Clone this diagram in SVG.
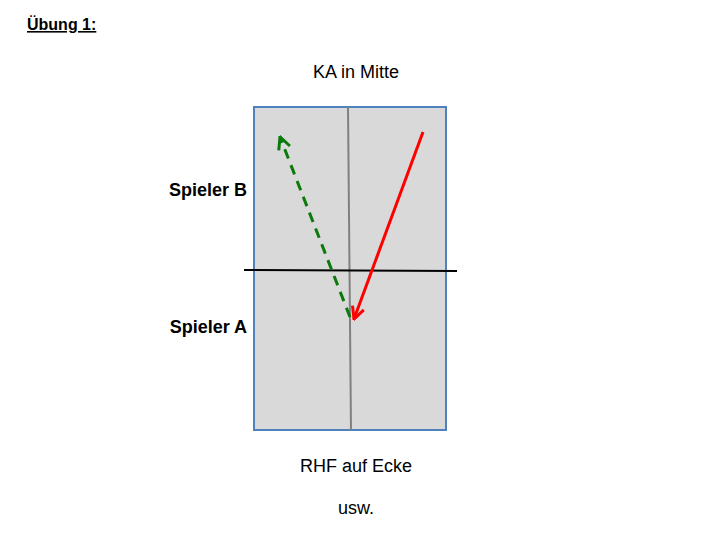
<svg xmlns="http://www.w3.org/2000/svg" width="720" height="540" viewBox="0 0 720 540">
<style>
text{font-family:"Liberation Sans",Arial,sans-serif;fill:#000}
.b{font-weight:bold;font-size:18px}
.n{font-size:18px}
</style>
<defs>
<marker id="hr" viewBox="0 0 10 10" refX="9" refY="5" markerWidth="5" markerHeight="5" orient="auto" markerUnits="strokeWidth"><path d="M1,1 L9,5 L1,9" fill="none" stroke="#ff0000" stroke-width="2"/></marker>
<marker id="hg" viewBox="0 0 10 10" refX="9" refY="5" markerWidth="5" markerHeight="5" orient="auto" markerUnits="strokeWidth"><path d="M1,1 L9,5 L1,9" fill="none" stroke="#0a7a0a" stroke-width="2"/></marker>
</defs>
<rect width="720" height="540" fill="#fff"/>
<text x="27" y="30" style="font-size:16px;font-weight:bold;text-decoration:underline">Übung 1:</text>
<text class="n" x="356" y="78" text-anchor="middle">KA in Mitte</text>
<g id="table">
<rect x="254" y="107" width="192" height="323" fill="#d9d9d9" stroke="#4f81bd" stroke-width="2"/>
<line x1="348" y1="107" x2="351" y2="430" stroke="#808080" stroke-width="2"/>
<line x1="244" y1="270" x2="457" y2="271" stroke="#000" stroke-width="2"/>
</g>
<text class="b" x="247" y="196" text-anchor="end">Spieler B</text>
<text class="b" x="247" y="333" text-anchor="end">Spieler A</text>
<g id="connectors">
<line x1="423" y1="132" x2="354" y2="319" stroke="#ff0000" stroke-width="3" marker-end="url(#hr)"/>
<line x1="350" y1="317" x2="280" y2="137" stroke="#0a7a0a" stroke-width="3" stroke-dasharray="10,7" marker-end="url(#hg)"/>
</g>
<text class="n" x="356" y="472" text-anchor="middle">RHF auf Ecke</text>
<text class="n" x="356" y="514" text-anchor="middle">usw.</text>
</svg>
